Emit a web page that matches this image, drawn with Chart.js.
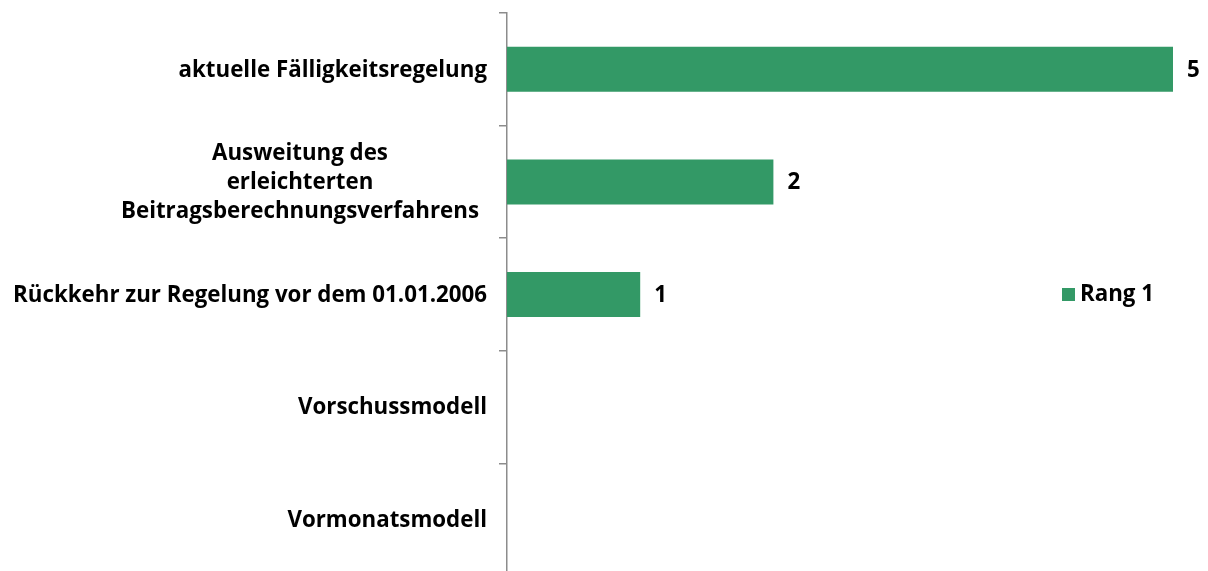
<!DOCTYPE html>
<html>
<head>
<meta charset="utf-8">
<script src="https://cdn.jsdelivr.net/npm/chart.js@4"></script>
<style>
  html, body { margin: 0; padding: 0; background: #fff; overflow: hidden; }
</style>
</head>
<body>
<canvas id="chart" width="1208" height="580"></canvas>
<script>
const categories = [
    ['aktuelle Fälligkeitsregelung'],
    ['Ausweitung des', 'erleichterten', 'Beitragsberechnungsverfahrens'],
    ['Rückkehr zur Regelung vor dem 01.01.2006'],
    ['Vorschussmodell'],
    ['Vormonatsmodell']
];
const rang1 = [5, 2, 1, null, null];
const seriesName = 'Rang 1';

const green = '#339966';

// pick a font size so the longest label is as wide as in the original
const probe = document.createElement('canvas').getContext('2d');
probe.font = 'bold 20px "Open Sans"';
const fontSize = Math.round(20 * 475 / probe.measureText(categories[2][0]).width * 10) / 10;
const FONT = 'bold ' + fontSize + 'px "Open Sans"';

// labels left of the axis, lines centered within their block
const catLabels = {
    id: 'catLabels',
    afterDraw(chart) {
        const ctx = chart.ctx;
        const y = chart.scales.y;
        ctx.save();
        ctx.font = FONT;
        ctx.fillStyle = '#000';
        ctx.textBaseline = 'middle';
        ctx.textAlign = 'center';
        categories.forEach((lines, i) => {
            const cy = y.getPixelForTick(i) + 1;
            const w = Math.max(...lines.map(l => ctx.measureText(l).width));
            // wrapped labels sit a bit further from the axis
            const right = y.right - (lines.length > 1 ? 28 : 20);
            const cx = right - w / 2;
            const lh = 29;
            lines.forEach((l, j) => {
                ctx.fillText(l, cx, cy + (j - (lines.length - 1) / 2) * lh);
            });
        });
        // value labels
        const meta = chart.getDatasetMeta(0);
        ctx.textAlign = 'left';
        meta.data.forEach((bar, i) => {
            if (rang1[i] == null) return;
            ctx.fillText(String(rang1[i]), bar.x + 14, bar.y + 1);
        });
        // legend
        const lx = 1062, ly = 295;
        ctx.fillStyle = green;
        ctx.fillRect(lx, ly - 7, 13, 13);
        ctx.fillStyle = '#000';
        ctx.fillText(seriesName, lx + 18, ly);
        ctx.restore();
    }
};

new Chart(document.getElementById('chart'), {
    type: 'bar',
    data: {
        labels: categories.map(c => c.join(' ')),
        datasets: [{
            label: seriesName,
            data: rang1,
            backgroundColor: green,
            barPercentage: 0.4,
            categoryPercentage: 1
        }]
    },
    options: {
        indexAxis: 'y',
        responsive: false,
        animation: false,
        layout: { padding: { top: 13, right: 35, bottom: 4, left: 0 } },
        plugins: { legend: { display: false }, tooltip: { enabled: false } },
        scales: {
            x: { display: false, min: 0, max: 5 },
            y: {
                offset: true,
                ticks: { display: false },
                grid: { offset: true, drawOnChartArea: false, tickLength: 8, color: '#8c8c8c', lineWidth: 1.5 },
                border: { color: '#8c8c8c', width: 1.5 },
                afterFit(scale) { scale.width = 507; }
            }
        }
    },
    plugins: [catLabels]
});
</script>
</body>
</html>
